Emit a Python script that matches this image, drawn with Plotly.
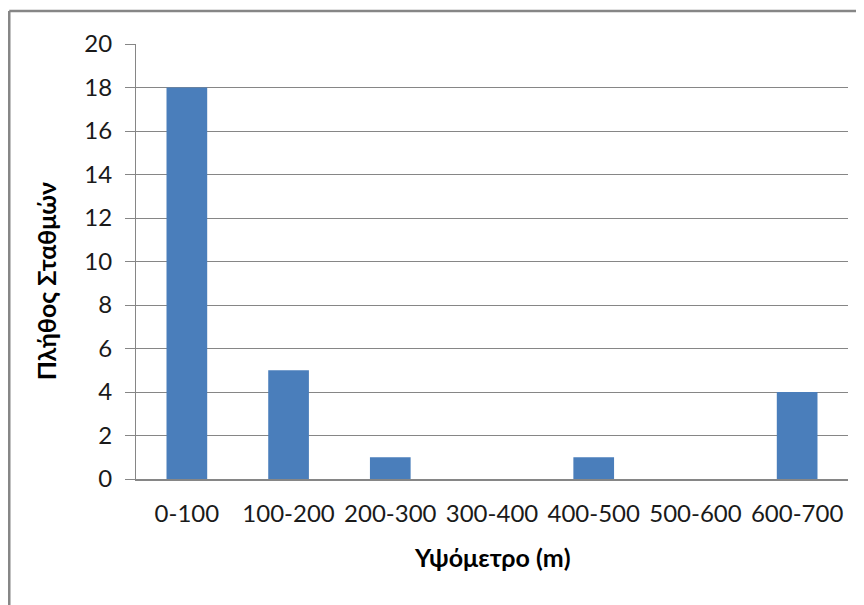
import plotly.graph_objects as go

categories = ["0-100", "100-200", "200-300", "300-400", "400-500", "500-600", "600-700"]
counts = [18, 5, 1, 0, 1, 0, 4]
y_ticks = [0, 2, 4, 6, 8, 10, 12, 14, 16, 18, 20]
x_title = "Υψόμετρο (m)"
y_title = "Πλήθος Σταθμών"

FONT = "Lato"
GRID = "#868686"

fig = go.Figure(go.Bar(x=categories, y=counts, marker=dict(color="#4a7ebb", line=dict(width=0))))

fig.update_layout(
    width=864, height=605,
    margin=dict(l=128, r=24, t=36, b=134),
    paper_bgcolor="white", plot_bgcolor="white",
    bargap=0.6,
    showlegend=False,
    font=dict(family=FONT, size=24, color="#1a1a1a"),
    xaxis=dict(
        type="category", showgrid=False, showline=True, linecolor=GRID, linewidth=1.5,
        ticks="", ticklabelstandoff=12, tickfont=dict(size=24),
    ),
    yaxis=dict(
        range=[0, 20], tickvals=y_ticks, showgrid=True, gridcolor=GRID, gridwidth=1.2,
        showline=True, linecolor=GRID, linewidth=1.2,
        ticks="outside", ticklen=10, tickcolor=GRID, tickwidth=1.2,
        ticklabelstandoff=8,
        tickfont=dict(size=24), zeroline=False,
    ),
    annotations=[
        dict(text="<b>" + x_title + "</b>", xref="paper", yref="paper", x=0.5, y=-0.18,
             xanchor="center", yanchor="middle", showarrow=False,
             font=dict(family=FONT, size=25, color="#000")),
        dict(text="<b>" + y_title + "</b>", xref="paper", yref="paper", x=-0.126, y=0.455,
             xanchor="center", yanchor="middle", showarrow=False, textangle=-90,
             font=dict(family=FONT, size=25, color="#000")),
    ],
    shapes=[
        dict(type="line", xref="paper", yref="paper", x0=-0.178, x1=1.05, y0=1.076, y1=1.076,
             line=dict(color=GRID, width=2.5)),
        dict(type="line", xref="paper", yref="paper", x0=-0.178, x1=-0.178, y0=1.076, y1=-0.35,
             line=dict(color=GRID, width=2.5)),
    ],
)

fig.write_html("out.html")
